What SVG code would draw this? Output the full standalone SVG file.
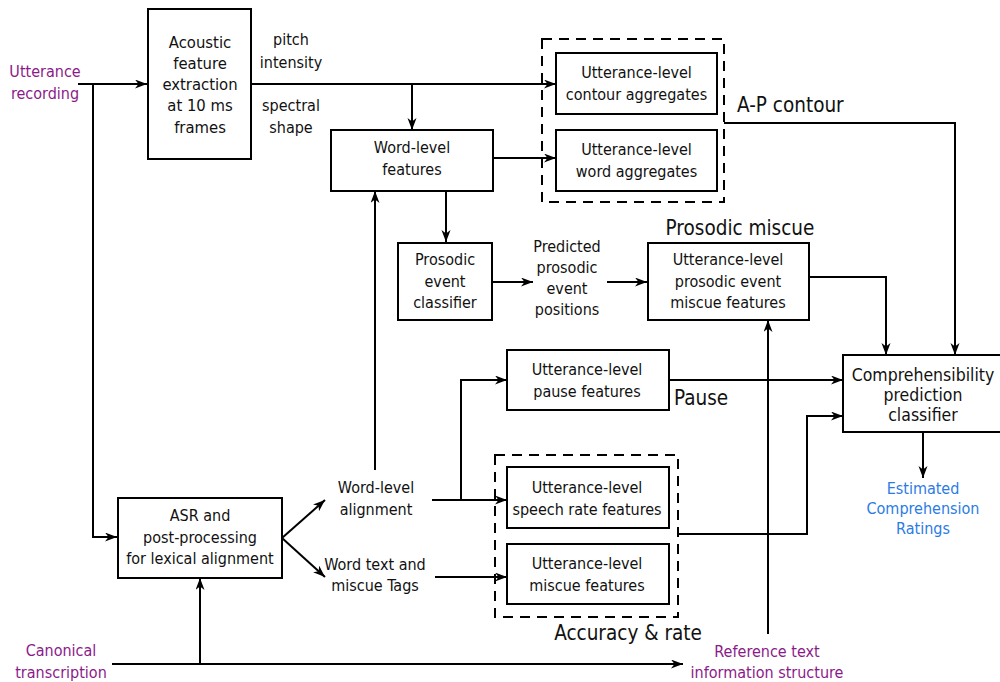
<svg xmlns="http://www.w3.org/2000/svg" width="1000" height="682" viewBox="0 0 1000 682">
<style>
.box{fill:#fff;stroke:#000;stroke-width:2}
.dash{fill:none;stroke:#000;stroke-width:2;stroke-dasharray:10,7}
.t{font-family:"DejaVu Sans Condensed","DejaVu Sans","Liberation Sans",sans-serif;font-stretch:condensed;font-size:16px;fill:#111;text-anchor:middle}
.big{font-family:"DejaVu Sans Condensed","DejaVu Sans","Liberation Sans",sans-serif;font-stretch:condensed;font-size:20.5px;fill:#111}
.p{fill:#8b1a89}
.b{fill:#2b7be4}
.c{fill:none;stroke:#000;stroke-width:2;marker-end:url(#ah)}
</style>
<defs>
<marker id="ah" markerWidth="14" markerHeight="10" refX="12" refY="4.5" orient="auto" markerUnits="userSpaceOnUse">
<path d="M0,0 L12,4.5 L0,9 L3.5,4.5 z" fill="#000"/>
</marker>
</defs>
<rect width="1000" height="682" fill="#fff"/>

<g id="connectors">
<path class="c" d="M78,84 H147"/>
<path class="c" d="M93,84 V537 H117"/>
<path class="c" d="M251,84 H556"/>
<path class="c" d="M412,84 V130"/>
<path class="c" d="M493,158 H556"/>
<path class="c" d="M446,191 V242"/>
<path class="c" d="M492,282 H533"/>
<path class="c" d="M607,282 H647"/>
<path class="c" d="M724,123 H955 V355"/>
<path class="c" d="M809,277 H886 V355"/>
<path class="c" d="M669,380 H843"/>
<path class="c" d="M678,534 H807 V416 H843"/>
<path class="c" d="M768,634 V320"/>
<path class="c" d="M112,664 H683"/>
<path class="c" d="M200,664 V578"/>
<path class="c" d="M282,538 L325,500"/>
<path class="c" d="M282,538 L325,577"/>
<path class="c" d="M432,500 H507"/>
<path class="c" d="M461,500 V380 H507"/>
<path class="c" d="M435,577 H507"/>
<path class="c" d="M375,470 V191"/>
<path class="c" d="M923,432 V478"/>
</g>

<g id="utterance-recording">
<text class="t p" x="45" y="77">Utterance</text>
<text class="t p" x="45" y="99">recording</text>
</g>

<g id="acoustic">
<rect class="box" x="148" y="9" width="103" height="150"/>
<text class="t" style="font-size:16.5px" x="200" y="48">Acoustic</text>
<text class="t" style="font-size:16.5px" x="200" y="69">feature</text>
<text class="t" style="font-size:16.5px" x="200" y="90">extraction</text>
<text class="t" style="font-size:16.5px" x="200" y="111">at 10 ms</text>
<text class="t" style="font-size:16.5px" x="200" y="133">frames</text>
</g>

<g id="acoustic-labels">
<text class="t" x="291" y="45">pitch</text>
<text class="t" x="291" y="67.5">intensity</text>
<text class="t" x="291" y="110.5">spectral</text>
<text class="t" x="291" y="133">shape</text>
</g>

<g id="word-level-features">
<rect class="box" x="331" y="130" width="162" height="61"/>
<text class="t" x="412" y="153">Word-level</text>
<text class="t" x="412" y="175">features</text>
</g>

<g id="ap-contour-group">
<rect class="dash" x="542" y="39" width="182" height="163"/>
<text class="big" x="737" y="112">A-P contour</text>
</g>

<g id="contour-aggregates">
<rect class="box" x="556" y="53" width="161" height="61"/>
<text class="t" x="636.5" y="78">Utterance-level</text>
<text class="t" x="636.5" y="100">contour aggregates</text>
</g>

<g id="word-aggregates">
<rect class="box" x="556" y="130" width="161" height="61"/>
<text class="t" x="636.5" y="155">Utterance-level</text>
<text class="t" x="636.5" y="177">word aggregates</text>
</g>

<g id="prosodic-classifier">
<rect class="box" x="398" y="243" width="94" height="77"/>
<text class="t" x="445" y="265">Prosodic</text>
<text class="t" x="445" y="286.5">event</text>
<text class="t" x="445" y="308">classifier</text>
</g>

<g id="predicted-positions">
<text class="t" x="567" y="252">Predicted</text>
<text class="t" x="567" y="273">prosodic</text>
<text class="t" x="567" y="294">event</text>
<text class="t" x="567" y="315">positions</text>
</g>

<g id="prosodic-miscue">
<text class="big" x="740" y="235" text-anchor="middle">Prosodic miscue</text>
<rect class="box" x="648" y="243" width="161" height="77"/>
<text class="t" x="728" y="265">Utterance-level</text>
<text class="t" x="728" y="286.5">prosodic event</text>
<text class="t" x="728" y="308">miscue features</text>
</g>

<g id="pause-features">
<rect class="box" x="507" y="350" width="162" height="60"/>
<text class="t" x="587" y="375">Utterance-level</text>
<text class="t" x="587" y="397">pause features</text>
<text class="big" x="674" y="405">Pause</text>
</g>

<g id="accuracy-rate-group">
<rect class="dash" x="495" y="455" width="183" height="162"/>
<text class="big" x="628" y="640" text-anchor="middle">Accuracy &amp; rate</text>
</g>

<g id="speech-rate">
<rect class="box" x="507" y="467" width="162" height="61"/>
<text class="t" x="587" y="493">Utterance-level</text>
<text class="t" x="587" y="514.5">speech rate features</text>
</g>

<g id="miscue-features">
<rect class="box" x="507" y="544" width="162" height="60"/>
<text class="t" x="587" y="569">Utterance-level</text>
<text class="t" x="587" y="591">miscue features</text>
</g>

<g id="comprehensibility">
<rect class="box" x="843" y="355" width="158" height="77"/>
<text class="t" style="font-size:17.5px" x="923" y="381">Comprehensibility</text>
<text class="t" style="font-size:17.5px" x="923" y="401">prediction</text>
<text class="t" style="font-size:17.5px" x="923" y="421">classifier</text>
</g>

<g id="estimated-ratings">
<text class="t b" x="923" y="494">Estimated</text>
<text class="t b" x="923" y="514">Comprehension</text>
<text class="t b" x="923" y="534">Ratings</text>
</g>

<g id="asr">
<rect class="box" x="118" y="498" width="164" height="80"/>
<text class="t" x="200" y="521">ASR and</text>
<text class="t" x="200" y="543">post-processing</text>
<text class="t" x="200" y="564">for lexical alignment</text>
</g>

<g id="word-level-alignment">
<text class="t" x="376" y="492.5">Word-level</text>
<text class="t" x="376" y="514.5">alignment</text>
</g>

<g id="word-text-tags">
<text class="t" x="375" y="569.5">Word text and</text>
<text class="t" x="375" y="591">miscue Tags</text>
</g>

<g id="canonical-transcription">
<text class="t p" x="61" y="656">Canonical</text>
<text class="t p" x="61" y="678">transcription</text>
</g>

<g id="reference-text">
<text class="t p" x="767" y="656.5">Reference text</text>
<text class="t p" x="767" y="677.5">information structure</text>
</g>
</svg>
